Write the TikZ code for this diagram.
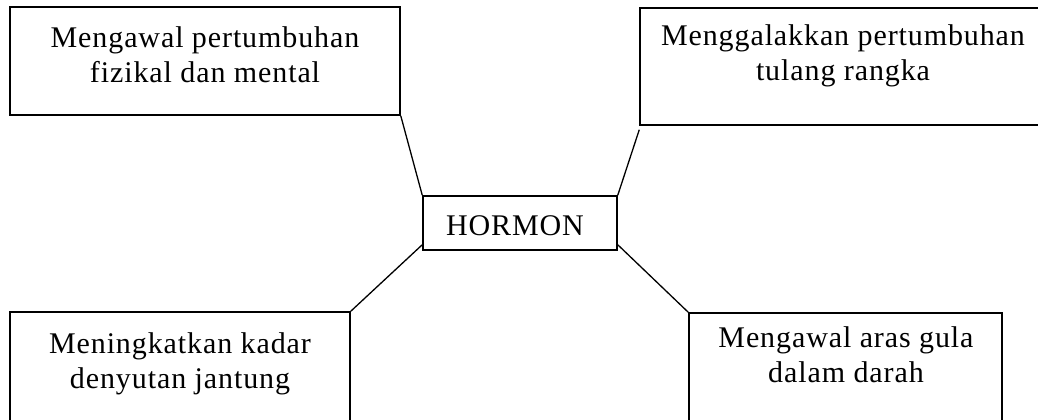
\documentclass[tikz,border=0pt]{standalone}
\usepackage{fontspec}
\setmainfont{Liberation Serif}[LetterSpace=3.0]
\begin{document}
\begin{tikzpicture}[x=1pt,y=-1pt,
  box/.style={draw=black,line width=1.5pt,rectangle,inner sep=0pt},
  txt/.style={align=center,inner sep=0pt,font=\fontsize{30}{35}\selectfont},
  link/.style={draw=black,line width=1.3pt}]
\useasboundingbox (0,0) rectangle (1038,420);
\clip (0,0) rectangle (1038,420);

% central box
\node[box,minimum width=194pt,minimum height=54pt] (h) at (520,223) {};
\node[txt,anchor=base] (ht) at (515,235) {HORMON};

% corner boxes
\node[box,minimum width=390pt,minimum height=108pt] (tl) at (205,61) {};
\node[box,minimum width=420pt,minimum height=117pt] (tr) at (850,66.5) {};
\node[box,minimum width=340pt,minimum height=140pt] (bl) at (180,382) {};
\node[box,minimum width=313pt,minimum height=140pt] (br) at (845.5,383) {};

% box texts (anchored on the baseline of the last line)
\node[txt,anchor=base] (tlt) at (205,82) {Mengawal pertumbuhan\\fizikal dan mental};
\node[txt,anchor=base] (trt) at (843,80) {Menggalakkan pertumbuhan\\tulang rangka};
\node[txt,anchor=base] (blt) at (180,388) {Meningkatkan kadar\\denyutan jantung};
\node[txt,anchor=base] (brt) at (846,382) {Mengawal aras gula\\dalam darah};

% connectors
\draw[link] (tl.south east) -- (h.north west);
\draw[link] ([yshift=-4pt]tr.south west) -- (h.north east);
\draw[link] ([yshift=6pt]h.south west) -- (bl.north east);
\draw[link] ([yshift=6pt]h.south east) -- (br.north west);
\end{tikzpicture}
\end{document}
